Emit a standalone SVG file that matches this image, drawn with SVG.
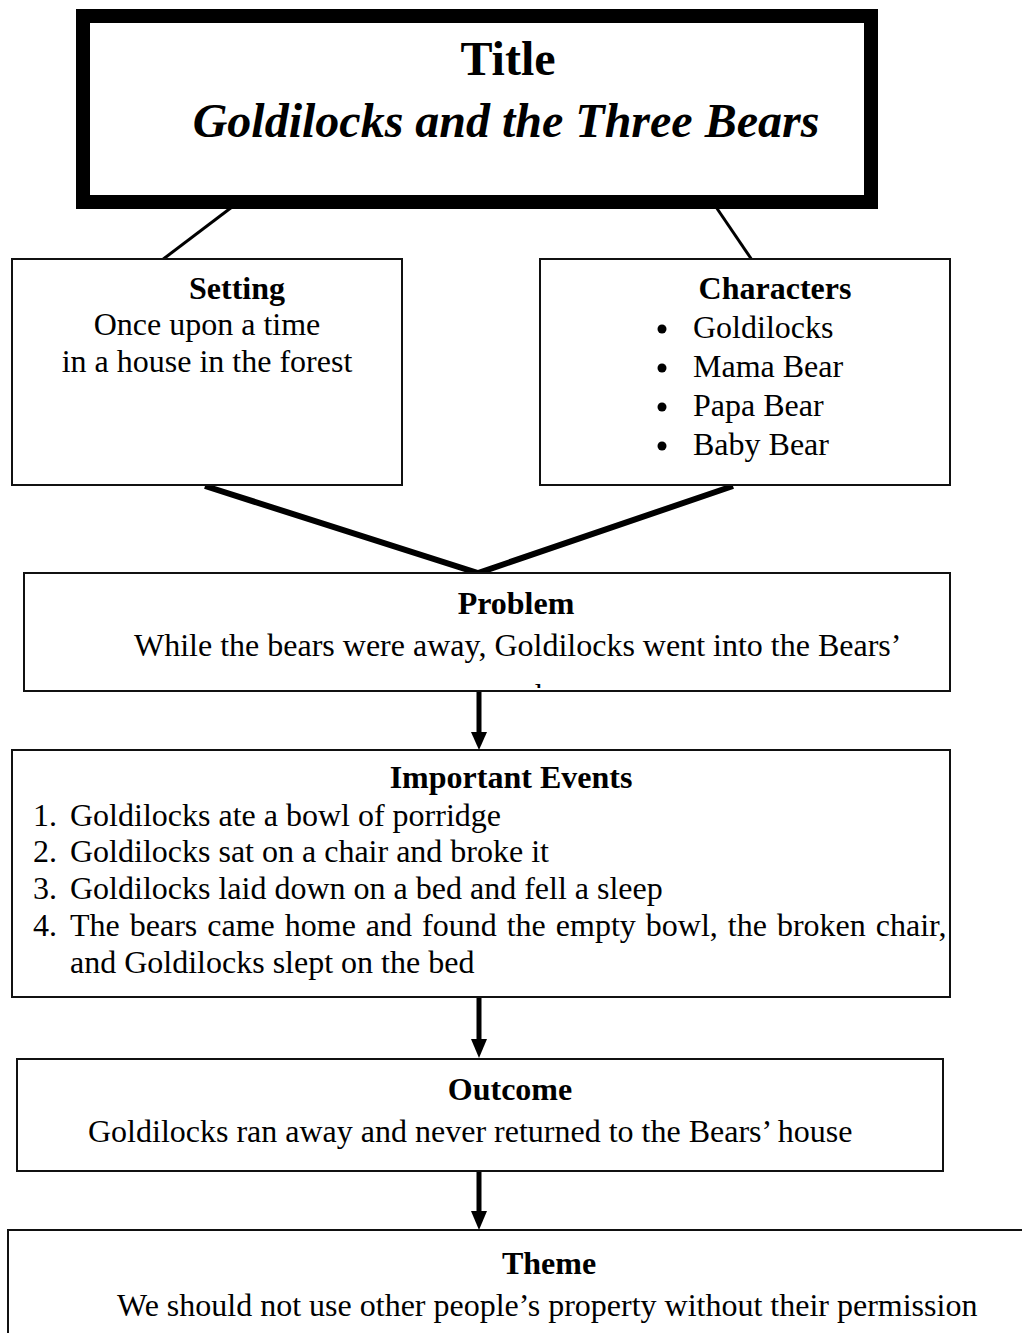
<svg xmlns="http://www.w3.org/2000/svg" width="1022" height="1333" viewBox="0 0 1022 1333">
  <style>
    .box { fill: #ffffff; stroke: #111111; stroke-width: 2; }
    .head { font-family: "Liberation Serif", "Times New Roman", serif; font-weight: bold; font-size: 32px; fill: #000; text-anchor: middle; }
    .big { font-size: 48px; }
    .body { font-family: "Liberation Serif", "Times New Roman", serif; font-size: 32px; fill: #000; }
    .mid { text-anchor: middle; }
    .thin { stroke: #000; stroke-width: 3; fill: none; }
    .thick { stroke: #000; stroke-width: 6; fill: none; }
    .shaft { stroke: #000; stroke-width: 5; fill: none; }
  </style>
  <defs>
    <clipPath id="problem-clip">
      <rect x="24" y="573" width="926" height="115"/>
    </clipPath>
  </defs>
  <rect width="1022" height="1333" fill="#ffffff"/>

  <!-- connectors -->
  <g id="connectors">
    <line class="thin" x1="232" y1="207" x2="162" y2="260"/>
    <line class="thin" x1="716" y1="207" x2="752" y2="260"/>
    <polyline class="thick" points="205,486 478,573 733,486"/>
    <line class="shaft" x1="479" y1="691" x2="479" y2="734"/>
    <polygon points="471,732 487,732 479,750"/>
    <line class="shaft" x1="479" y1="997" x2="479" y2="1041"/>
    <polygon points="471,1039 487,1039 479,1058"/>
    <line class="shaft" x1="479" y1="1171" x2="479" y2="1213"/>
    <polygon points="471,1211 487,1211 479,1230"/>
  </g>

  <!-- title -->
  <g id="title">
    <rect x="83" y="16" width="788" height="186" fill="#ffffff" stroke="#000" stroke-width="14"/>
    <text class="head big" x="508" y="75">Title</text>
    <text class="head big" x="506" y="137" font-style="italic">Goldilocks and the Three Bears</text>
  </g>

  <!-- setting -->
  <g id="setting">
    <rect class="box" x="12" y="259" width="390" height="226"/>
    <text class="head" x="237" y="299">Setting</text>
    <text class="body mid" x="207" y="335">Once upon a time</text>
    <text class="body mid" x="207" y="372">in a house in the forest</text>
  </g>

  <!-- characters -->
  <g id="characters">
    <rect class="box" x="540" y="259" width="410" height="226"/>
    <text class="head" x="775" y="299">Characters</text>
    <circle cx="662" cy="329" r="4.5"/>
    <circle cx="662" cy="368" r="4.5"/>
    <circle cx="662" cy="407" r="4.5"/>
    <circle cx="662" cy="446" r="4.5"/>
    <text class="body" x="693" y="338">Goldilocks</text>
    <text class="body" x="693" y="377">Mama Bear</text>
    <text class="body" x="693" y="416">Papa Bear</text>
    <text class="body" x="693" y="455">Baby Bear</text>
  </g>

  <!-- problem -->
  <g id="problem">
    <rect class="box" x="24" y="573" width="926" height="118"/>
    <text class="head" x="516" y="614">Problem</text>
    <text class="body" x="134" y="656">While the bears were away, Goldilocks went into the Bears’</text>
    <text class="body" x="535" y="706" clip-path="url(#problem-clip)">house</text>
  </g>

  <!-- important events -->
  <g id="events">
    <rect class="box" x="12" y="750" width="938" height="247"/>
    <text class="head" x="511" y="788">Important Events</text>
    <text class="body" x="33" y="826">1.</text>
    <text class="body" x="70" y="826">Goldilocks ate a bowl of porridge</text>
    <text class="body" x="33" y="862">2.</text>
    <text class="body" x="70" y="862">Goldilocks sat on a chair and broke it</text>
    <text class="body" x="33" y="899">3.</text>
    <text class="body" x="70" y="899">Goldilocks laid down on a bed and fell a sleep</text>
    <text class="body" x="33" y="936">4.</text>
    <text class="body" x="70" y="936" word-spacing="2">The bears came home and found the empty bowl, the broken chair,</text>
    <text class="body" x="70" y="973">and Goldilocks slept on the bed</text>
  </g>

  <!-- outcome -->
  <g id="outcome">
    <rect class="box" x="17" y="1059" width="926" height="112"/>
    <text class="head" x="510" y="1100">Outcome</text>
    <text class="body" x="88" y="1142">Goldilocks ran away and never returned to the Bears’ house</text>
  </g>

  <!-- theme -->
  <g id="theme">
    <rect class="box" x="8" y="1230" width="1030" height="120"/>
    <text class="head" x="549" y="1274">Theme</text>
    <text class="body" x="117" y="1316">We should not use other people’s property without their permission</text>
  </g>
</svg>
